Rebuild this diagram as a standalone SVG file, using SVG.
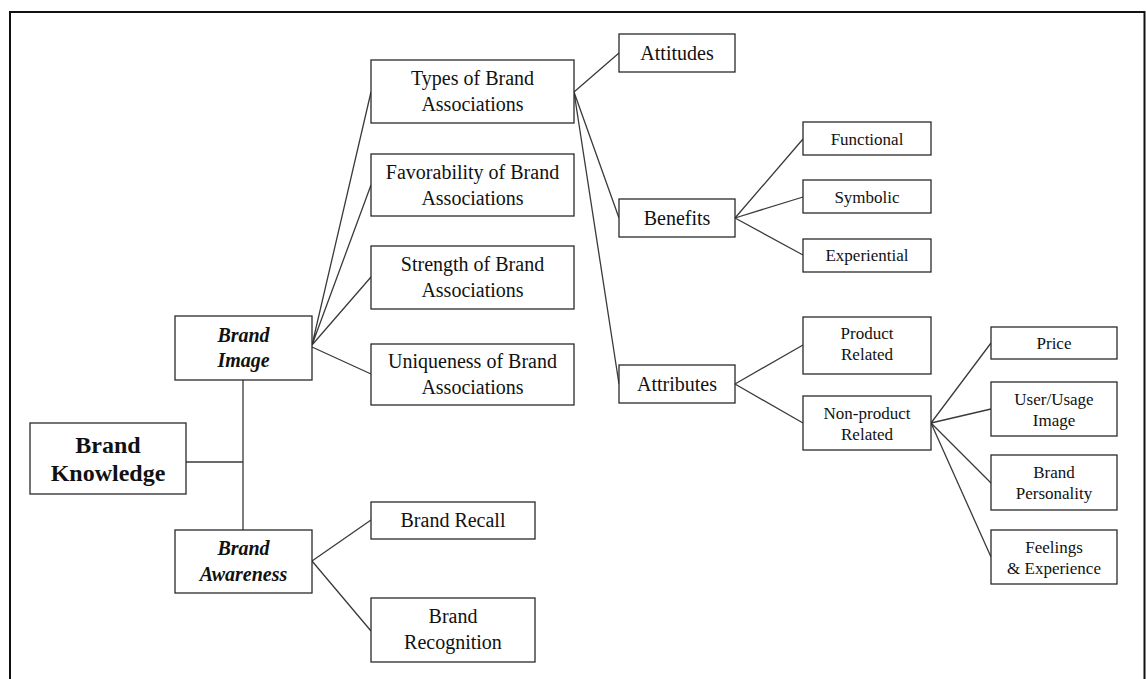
<svg xmlns="http://www.w3.org/2000/svg" width="1146" height="679" viewBox="0 0 1146 679">
  <style>
    .box { fill: #ffffff; stroke: #2a2a2a; stroke-width: 1.3; }
    .lnk { fill: none; stroke: #3a3a3a; stroke-width: 1.3; }
    .frame { fill: none; stroke: #111111; stroke-width: 2; }
    text { font-family: "Liberation Serif", "Times New Roman", serif; fill: #111111; text-anchor: middle; }
    .t20 { font-size: 20px; }
    .t16 { font-size: 17px; }
    .root { font-size: 24px; font-weight: bold; }
    .sub { font-size: 20px; font-weight: bold; font-style: italic; }
  </style>

  <rect width="1146" height="679" fill="#ffffff"/>
  <!-- outer frame, open at the bottom edge -->
  <path class="frame" d="M10,690 V12 H1144.5 V690"/>

  <!-- connectors -->
  <g id="connectors">
    <path class="lnk" d="M186,462 H243 M243,380 V530"/>
    <path class="lnk" d="M312,345 L371,92 M312,345 L371,185 M312,345 L371,277 M312,347 L371,374"/>
    <path class="lnk" d="M312,561 L371,520 M312,561 L371,631"/>
    <path class="lnk" d="M574,92 L619,53 M574,92 L619,218 M574,92 L619,384"/>
    <path class="lnk" d="M735,218 L803,139 M735,218 L803,197 M735,218 L803,255"/>
    <path class="lnk" d="M735,384 L803,345 M735,384 L803,423"/>
    <path class="lnk" d="M931,423 L991,343 M931,423 L991,409 M931,423 L991,483 M931,423 L991,557"/>
  </g>

  <g id="brand-knowledge">
    <rect class="box" x="30" y="423" width="156" height="71"/>
    <text class="root" x="108" y="453">Brand</text>
    <text class="root" x="108" y="481">Knowledge</text>
  </g>

  <g id="brand-image">
    <rect class="box" x="175" y="316" width="137" height="64"/>
    <text class="sub" x="243.5" y="342">Brand</text>
    <text class="sub" x="243.5" y="367">Image</text>
  </g>

  <g id="brand-awareness">
    <rect class="box" x="175" y="530" width="137" height="63"/>
    <text class="sub" x="243.5" y="555">Brand</text>
    <text class="sub" x="243.5" y="581">Awareness</text>
  </g>

  <g id="types">
    <rect class="box" x="371" y="60" width="203" height="63"/>
    <text class="t20" x="472.5" y="85">Types of Brand</text>
    <text class="t20" x="472.5" y="111">Associations</text>
  </g>

  <g id="favorability">
    <rect class="box" x="371" y="154" width="203" height="62"/>
    <text class="t20" x="472.5" y="179">Favorability of Brand</text>
    <text class="t20" x="472.5" y="205">Associations</text>
  </g>

  <g id="strength">
    <rect class="box" x="371" y="246" width="203" height="63"/>
    <text class="t20" x="472.5" y="271">Strength of Brand</text>
    <text class="t20" x="472.5" y="297">Associations</text>
  </g>

  <g id="uniqueness">
    <rect class="box" x="371" y="344" width="203" height="61"/>
    <text class="t20" x="472.5" y="368">Uniqueness of Brand</text>
    <text class="t20" x="472.5" y="394">Associations</text>
  </g>

  <g id="brand-recall">
    <rect class="box" x="371" y="502" width="164" height="37"/>
    <text class="t20" x="453" y="527">Brand Recall</text>
  </g>

  <g id="brand-recognition">
    <rect class="box" x="371" y="598" width="164" height="64"/>
    <text class="t20" x="453" y="623">Brand</text>
    <text class="t20" x="453" y="649">Recognition</text>
  </g>

  <g id="attitudes">
    <rect class="box" x="619" y="34" width="116" height="38"/>
    <text class="t20" x="677" y="59.5">Attitudes</text>
  </g>

  <g id="benefits">
    <rect class="box" x="619" y="199" width="116" height="38"/>
    <text class="t20" x="677" y="224.5">Benefits</text>
  </g>

  <g id="attributes">
    <rect class="box" x="619" y="365" width="116" height="38"/>
    <text class="t20" x="677" y="390.5">Attributes</text>
  </g>

  <g id="functional">
    <rect class="box" x="803" y="122" width="128" height="33"/>
    <text class="t16" x="867" y="144.5">Functional</text>
  </g>

  <g id="symbolic">
    <rect class="box" x="803" y="180" width="128" height="33"/>
    <text class="t16" x="867" y="202.5">Symbolic</text>
  </g>

  <g id="experiential">
    <rect class="box" x="803" y="239" width="128" height="33"/>
    <text class="t16" x="867" y="261">Experiential</text>
  </g>

  <g id="product-related">
    <rect class="box" x="803" y="317" width="128" height="57"/>
    <text class="t16" x="867" y="339">Product</text>
    <text class="t16" x="867" y="360">Related</text>
  </g>

  <g id="non-product-related">
    <rect class="box" x="803" y="396" width="128" height="54"/>
    <text class="t16" x="867" y="419">Non-product</text>
    <text class="t16" x="867" y="440">Related</text>
  </g>

  <g id="price">
    <rect class="box" x="991" y="327" width="126" height="32"/>
    <text class="t16" x="1054" y="349">Price</text>
  </g>

  <g id="user-usage-image">
    <rect class="box" x="991" y="382" width="126" height="54"/>
    <text class="t16" x="1054" y="405">User/Usage</text>
    <text class="t16" x="1054" y="426">Image</text>
  </g>

  <g id="brand-personality">
    <rect class="box" x="991" y="455" width="126" height="55"/>
    <text class="t16" x="1054" y="478">Brand</text>
    <text class="t16" x="1054" y="499">Personality</text>
  </g>

  <g id="feelings-experience">
    <rect class="box" x="991" y="530" width="126" height="54"/>
    <text class="t16" x="1054" y="553">Feelings</text>
    <text class="t16" x="1054" y="574">&amp; Experience</text>
  </g>
</svg>
